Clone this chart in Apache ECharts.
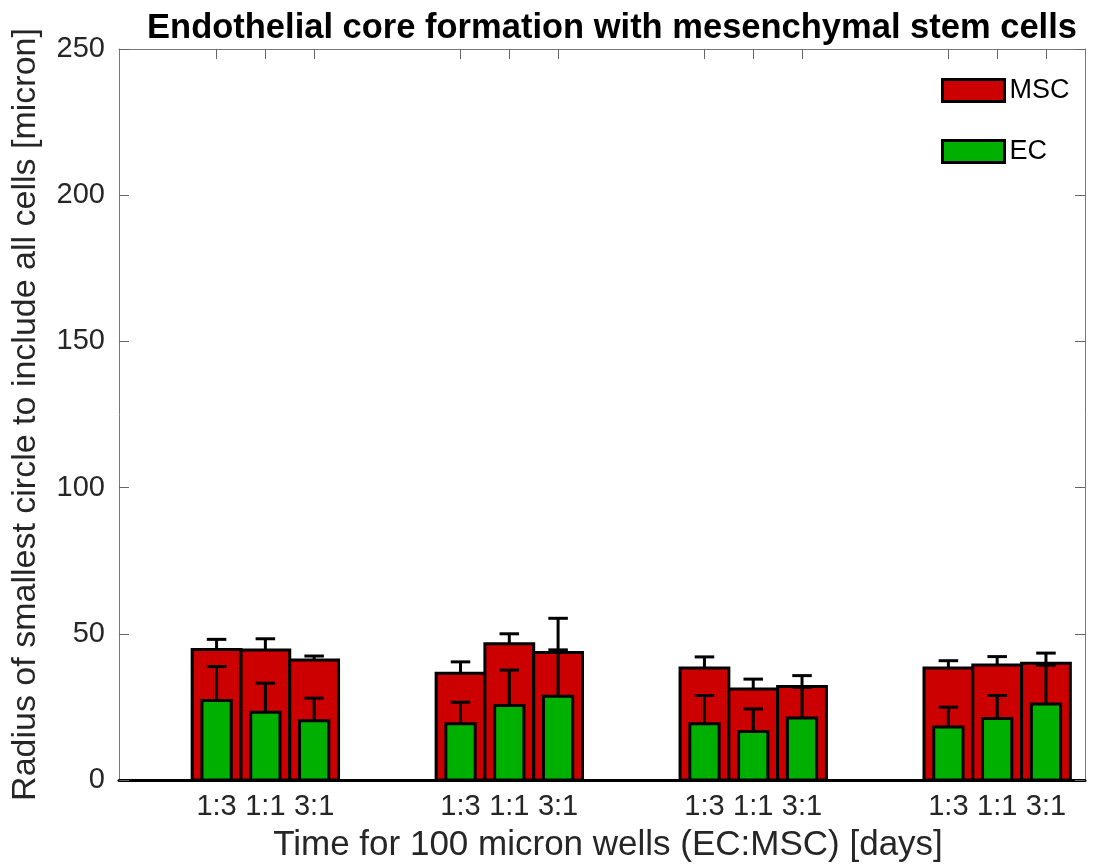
<!DOCTYPE html>
<html>
<head>
<meta charset="utf-8">
<script src="https://cdn.jsdelivr.net/npm/echarts@6/dist/echarts.min.js"></script>
<style>
html,body{margin:0;padding:0;background:#fff;overflow:hidden;}
#chart{width:1095px;height:868px;}
</style>
</head>
<body>
<div id="chart"></div>
<script>
// ---- data ----
const positions = [1, 2, 3, 6, 7, 8, 11, 12, 13, 16, 17, 18];
const ratioLabels = ['1:3', '1:1', '3:1', '1:3', '1:1', '3:1', '1:3', '1:1', '3:1', '1:3', '1:1', '3:1'];
const mscMean = [44.6, 44.5, 41.0, 36.5, 46.6, 43.6, 38.3, 31.1, 32.0, 38.3, 39.3, 39.9];
const mscSd   = [3.5, 3.8, 1.4, 3.9, 3.4, 11.7, 3.8, 3.4, 3.7, 2.5, 2.9, 3.5];
const ecMean  = [27.2, 23.2, 20.3, 19.2, 25.5, 28.6, 19.2, 16.6, 21.2, 18.1, 21.0, 26.0];
const ecSd    = [11.6, 9.9, 7.7, 7.4, 12.1, 15.9, 9.7, 7.7, 10.5, 6.8, 7.9, 13.3];
const yTicks  = [0, 50, 100, 150, 200, 250];

const RED = '#cc0000';
const GREEN = '#00b000';
const FONT = 'Liberation Sans, Arial, Helvetica, sans-serif';

const mscData = positions.map((p, i) => [p, mscMean[i], mscSd[i]]);
const ecData = positions.map((p, i) => [p, ecMean[i], ecSd[i]]);

function barRenderer(width, fill) {
  return function (params, api) {
    const x = api.value(0), v = api.value(1);
    const a = api.coord([x - width / 2, v]);
    const b = api.coord([x + width / 2, 0]);
    return {
      type: 'rect',
      shape: { x: a[0], y: a[1], width: b[0] - a[0], height: b[1] - a[1] },
      style: { fill: fill, stroke: '#000', lineWidth: 3 }
    };
  };
}
function errRenderer(cap) {
  return function (params, api) {
    const x = api.value(0), v = api.value(1), sd = api.value(2);
    const base = api.coord([x, v]);
    const top = api.coord([x, v + sd]);
    const cl = api.coord([x - cap / 2, v + sd]);
    const cr = api.coord([x + cap / 2, v + sd]);
    return {
      type: 'group',
      children: [
        { type: 'line', shape: { x1: base[0], y1: base[1], x2: top[0], y2: top[1] }, style: { stroke: '#000', lineWidth: 3 } },
        { type: 'line', shape: { x1: cl[0], y1: cl[1], x2: cr[0], y2: cr[1] }, style: { stroke: '#000', lineWidth: 3 } }
      ]
    };
  };
}

const chart = echarts.init(document.getElementById('chart'), null, { renderer: 'canvas' });
const xMin = -1, xMax = 18.8;
chart.setOption({
  animation: false,
  backgroundColor: '#fff',
  textStyle: { fontFamily: FONT },
  title: {
    text: 'Endothelial core formation with mesenchymal stem cells',
    left: 607, top: 6, textAlign: 'center',
    textStyle: { fontFamily: FONT, fontSize: 34.5, fontWeight: 'bold', color: '#000' }
  },
  legend: {
    orient: 'vertical', left: 936, top: 72, itemWidth: 62, itemHeight: 22, itemGap: 34,
    textStyle: { fontFamily: FONT, fontSize: 27, color: '#000' },
    data: [
      { name: 'MSC', icon: 'rect', itemStyle: { color: RED, borderColor: '#000', borderWidth: 3 } },
      { name: 'EC', icon: 'rect', itemStyle: { color: GREEN, borderColor: '#000', borderWidth: 3 } }
    ]
  },
  grid: { left: 119, right: 10, top: 49, bottom: 83, containLabel: false },
  xAxis: [
    {
      type: 'value', position: 'bottom', min: xMin, max: xMax,
      name: 'Time for 100 micron wells (EC:MSC) [days]', nameLocation: 'middle', nameGap: 48,
      nameTextStyle: { fontFamily: FONT, fontSize: 35, color: '#262626', padding: [0, 0, 0, 12] },
      axisLine: { show: true, onZero: false, lineStyle: { color: '#000', width: 3 } },
      axisTick: { show: false },
      splitLine: { show: false },
      axisLabel: {
        customValues: positions, margin: 12,
        fontFamily: FONT, fontSize: 29, color: '#262626',
        formatter: function (v) { const i = positions.indexOf(v); return i >= 0 ? ratioLabels[i] : ''; }
      }
    },
    {
      type: 'value', position: 'top', min: xMin, max: xMax,
      axisLine: { show: true, onZero: false, lineStyle: { color: '#777', width: 1 } },
      axisTick: { show: true, inside: true, length: 10, customValues: positions, lineStyle: { color: '#666', width: 1 } },
      axisLabel: { show: false },
      splitLine: { show: false }
    }
  ],
  yAxis: [
    {
      type: 'value', min: 0, max: 250, interval: 50, position: 'left',
      name: 'Radius of smallest circle to include all cells [micron]', nameLocation: 'middle', nameGap: 76,
      nameTextStyle: { fontFamily: FONT, fontSize: 34, color: '#262626' },
      axisLine: { show: true, onZero: false, lineStyle: { color: '#777', width: 1 } },
      axisTick: { show: true, inside: true, length: 10, lineStyle: { color: '#666', width: 1 } },
      axisLabel: { fontFamily: FONT, fontSize: 29, color: '#262626', margin: 14,
        customValues: yTicks },
      splitLine: { show: false }
    },
    {
      type: 'value', min: 0, max: 250, interval: 50, position: 'right',
      axisLine: { show: true, onZero: false, lineStyle: { color: '#777', width: 1 } },
      axisTick: { show: true, inside: true, length: 10, lineStyle: { color: '#666', width: 1 } },
      axisLabel: { show: false },
      splitLine: { show: false }
    }
  ],
  series: [
    { name: 'MSC', type: 'custom', xAxisIndex: 0, yAxisIndex: 0, renderItem: barRenderer(1.0, RED),
      itemStyle: { color: RED }, data: mscData, encode: { x: 0, y: 1 } },
    { name: 'MSC err', type: 'custom', xAxisIndex: 0, yAxisIndex: 0, renderItem: errRenderer(0.4),
      data: mscData, encode: { x: 0, y: 1 } },
    { name: 'EC', type: 'custom', xAxisIndex: 0, yAxisIndex: 0, renderItem: barRenderer(0.6, GREEN),
      itemStyle: { color: GREEN }, data: ecData, encode: { x: 0, y: 1 } },
    { name: 'EC err', type: 'custom', xAxisIndex: 0, yAxisIndex: 0, renderItem: errRenderer(0.4),
      data: ecData, encode: { x: 0, y: 1 } }
  ]
});
</script>
</body>
</html>
